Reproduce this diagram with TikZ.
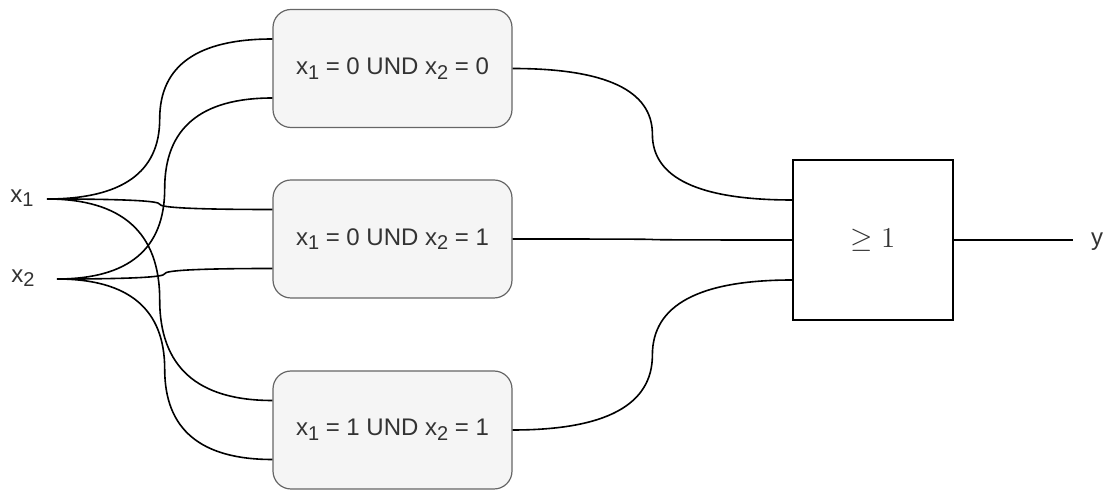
\documentclass[tikz,border=0pt]{standalone}
\usepackage{fontspec}
\setmainfont{Liberation Sans}
\usetikzlibrary{calc}

\definecolor{boxfill}{HTML}{F5F5F5}
\definecolor{boxline}{HTML}{666666}
\definecolor{txt}{HTML}{333333}

\newcommand{\sbs}[1]{\raisebox{-2.3pt}{\fontsize{10}{12}\selectfont #1}}

\tikzset{
  cond/.style={draw=boxline,fill=boxfill,line width=0.6pt,rounded corners=9pt,minimum width=119.5pt,minimum height=59pt,text=txt,font=\fontsize{12}{14}\selectfont},
  gate/.style={draw,line width=0.8pt,minimum width=80pt,minimum height=80pt,text=txt,font=\fontsize{14}{16}\selectfont},
  sig/.style={text=txt,inner sep=0pt,font=\fontsize{12}{14}\selectfont},
  wire/.style={line width=0.8pt,to path={let \p1=(\tikztostart),\p2=(\tikztotarget) in
    .. controls ({\x1+(\x2-\x1)/3},\y1) and ({(\x1+\x2)/2},{\y1+(\y2-\y1)/6}) .. ({(\x1+\x2)/2},{(\y1+\y2)/2})
    .. controls ({(\x1+\x2)/2},{\y2-(\y2-\y1)/6}) and ({\x2-(\x2-\x1)/3},\y2) .. (\tikztotarget)}}
}

\begin{document}
\begin{tikzpicture}[x=0.5pt,y=-0.5pt]
  \useasboundingbox (0,0) rectangle (1110,491);
  % inputs
  \node[sig] (x1) at (22,198) {x\sbs{1}};
  \node[sig] (x2) at (23,278) {x\sbs{2}};
  \coordinate (x1o) at (47,199);
  \coordinate (x2o) at (57,279);
  % conditions
  \node[cond] (b1) at (392.5,68.5) {x\sbs{1} = 0 UND x\sbs{2} = 0};
  \node[cond] (b2) at (392.5,239) {x\sbs{1} = 0 UND x\sbs{2} = 1};
  \node[cond] (b3) at (392.5,430) {x\sbs{1} = 1 UND x\sbs{2} = 1};
  % or gate
  \node[gate] (or) at (873,240) {$\geq 1$};
  \node[sig] (y) at (1097,242) {y};
  \coordinate (yo) at (1073,240);

  \draw[wire] (x1o) to ([yshift=14.75pt]b1.west)
              (x1o) to ([yshift=14.75pt]b2.west)
              (x1o) to ([yshift=14.75pt]b3.west);
  \draw[wire] (x2o) to ([yshift=-14.75pt]b1.west)
              (x2o) to ([yshift=-14.75pt]b2.west)
              (x2o) to ([yshift=-14.75pt]b3.west);
  \draw[wire] (b1.east) to ([yshift=20pt]or.west)
              (b2.east) to (or.west)
              (b3.east) to ([yshift=-20pt]or.west);
  \draw[line width=0.8pt] (or.east) -- (yo);
\end{tikzpicture}
\end{document}
